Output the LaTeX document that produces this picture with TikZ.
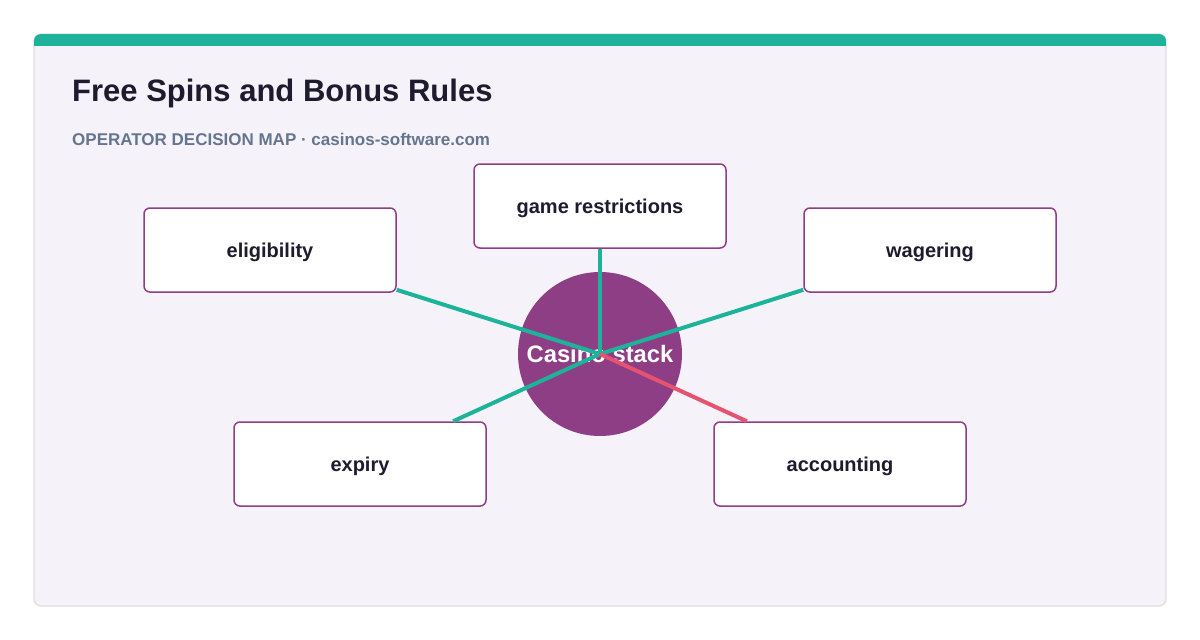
\documentclass[tikz,border=0pt]{standalone}
\usepackage{fontspec}
\setmainfont{Liberation Sans}
\definecolor{teal}{HTML}{1DB39A}
\definecolor{plum}{HTML}{8D3E85}
\definecolor{rosy}{HTML}{E5536F}
\definecolor{ink}{HTML}{1E1B2E}
\definecolor{slate}{HTML}{66758F}
\definecolor{cardbg}{HTML}{F5F3F9}
\definecolor{cardline}{HTML}{E0DFE6}
\tikzset{
  topic/.style={draw=plum, line width=1.5pt, fill=white, rounded corners=6pt,
    minimum width=252pt, minimum height=84pt, inner sep=0pt,
    text height=14.6pt, text depth=0pt,
    font=\fontsize{20}{23}\selectfont\bfseries, text=ink},
  hub/.style={circle, fill=plum, minimum size=164pt, inner sep=0pt,
    text height=17pt, text depth=0pt,
    font=\fontsize{23.8}{27}\selectfont\bfseries, text=white},
  spoke/.style={draw=teal, line width=4pt},
  hotspoke/.style={draw=rosy, line width=4pt}
}
\begin{document}
\begin{tikzpicture}[x=1pt,y=-1pt]
\useasboundingbox (0,0) rectangle (1200,640);
\fill[white] (0,0) rectangle (1200,640);
% card
\draw[cardline, line width=1.2pt, fill=cardbg, rounded corners=7pt] (34,34) rectangle (1166,606);
\begin{scope}
  \clip[rounded corners=7pt] (34,34) rectangle (1166,606);
  \fill[teal] (33,33) rectangle (1167,46);
\end{scope}
% title
\node[anchor=base west, inner sep=0pt, text=ink, font=\fontsize{31}{34}\selectfont\bfseries] (title) at (72,101.5) {Free Spins and Bonus Rules};
\node[anchor=base west, inner sep=0pt, text=slate, font=\fontsize{17}{20}\selectfont\bfseries] (sub) at (72,145) {OPERATOR DECISION MAP · casinos-software.com};
% topics
\node[topic] (elig) at (270,250) {eligibility};
\node[topic] (game) at (600,206) {game restrictions};
\node[topic] (wager) at (930,250) {wagering};
\node[topic] (expiry) at (360,464) {expiry};
\node[topic] (acct) at (840,464) {accounting};
% hub
\node[hub] (hub) at (600,354) {Casino stack};
% spokes
\draw[spoke] (hub.center) -- (elig);
\draw[spoke] (hub.center) -- (game);
\draw[spoke] (hub.center) -- (wager);
\draw[spoke] (hub.center) -- (expiry);
\draw[hotspoke] (hub.center) -- (acct);
\end{tikzpicture}
\end{document}
